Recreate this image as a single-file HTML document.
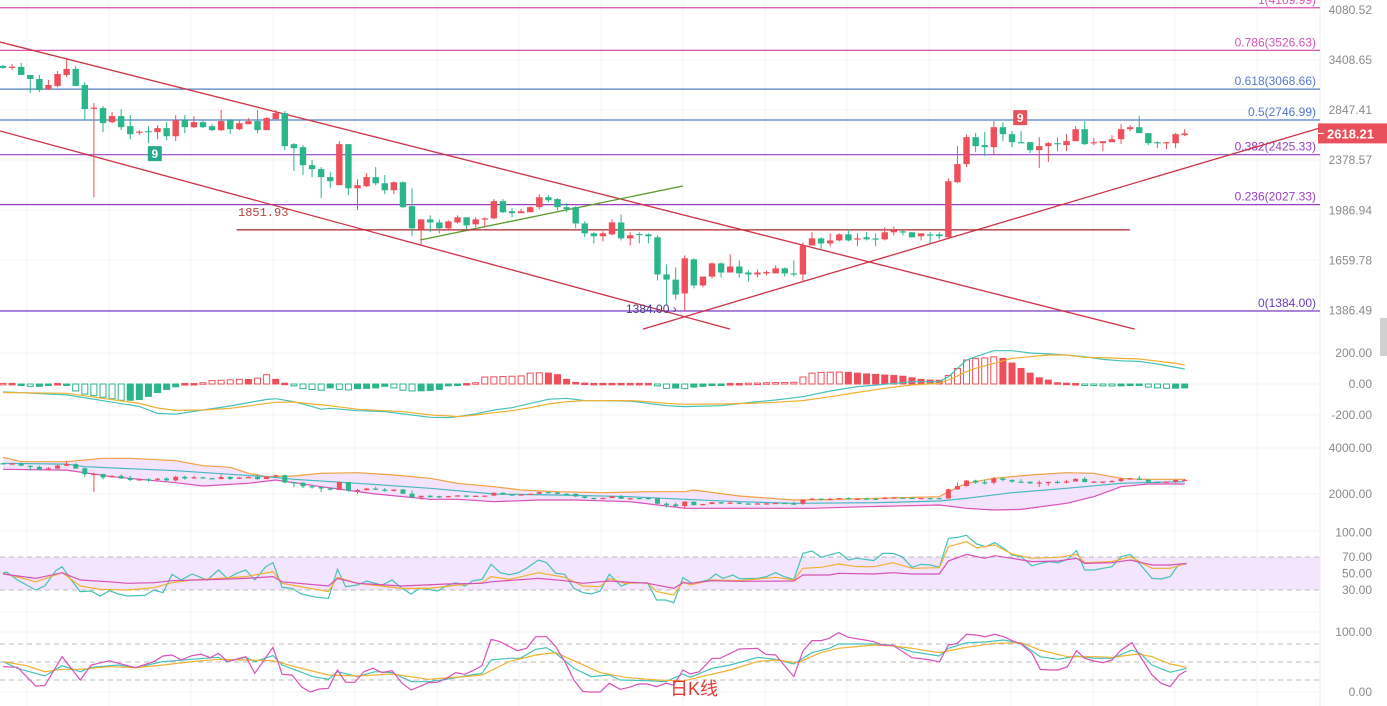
<!DOCTYPE html>
<html><head><meta charset="utf-8"><style>
html,body{margin:0;padding:0;background:#fff;width:1387px;height:706px;overflow:hidden}
svg{display:block;font-family:"Liberation Sans","Noto Sans CJK SC",sans-serif}
</style></head><body>
<svg id="chart" width="1387" height="706" viewBox="0 0 1387 706" xmlns="http://www.w3.org/2000/svg">
<g id="grid"></g>
<g id="main"></g>
<g id="macd"></g>
<g id="boll"></g>
<g id="rsi"></g>
<g id="kdj"></g>
<g id="axis"></g>
<text x="670" y="695" fill="#e53935" font-size="18">日K线</text>
<rect x="1380" y="318" width="7" height="38" fill="#d0d0d0"/>
</svg>
<script>
const opens=[3336,3324,3324,3229,3183,3070,3104,3229,3300,3115,2862,2867,2726,2786,2687,2626,2640,2630,2668,2592,2746,2677,2726,2687,2649,2746,2658,2706,2736,2649,2756,2816,2519,2492,2336,2303,2238,2174,2519,2150,2166,2238,2189,2135,2197,2016,1855,1923,1902,1862,1902,1937,1889,1923,1930,2053,1980,1966,1973,2009,2082,2068,2009,2009,1895,1829,1810,1822,1902,1796,1825,1822,1803,1578,1549,1474,1666,1517,1566,1642,1589,1624,1589,1578,1584,1584,1613,1584,1578,1751,1796,1764,1783,1822,1790,1803,1796,1790,1836,1842,1836,1810,1822,1822,1803,2197,2345,2583,2510,2492,2677,2611,2537,2537,2465,2501,2528,2510,2546,2658,2528,2528,2537,2564,2658,2677,2621,2537,2528,2528,2602];
const closes=[3312,3326,3229,3183,3059,3115,3240,3300,3104,2857,2872,2716,2786,2677,2611,2635,2635,2668,2592,2746,2677,2726,2677,2649,2736,2658,2716,2736,2649,2766,2816,2501,2483,2336,2303,2238,2205,2519,2150,2174,2238,2189,2135,2197,2009,1862,1923,1902,1862,1909,1937,1882,1923,1930,2053,1973,1966,1980,2009,2082,2060,2009,1995,1895,1829,1810,1829,1902,1796,1816,1820,1810,1578,1549,1468,1672,1517,1566,1642,1589,1624,1584,1578,1589,1592,1613,1584,1578,1751,1796,1764,1783,1822,1783,1796,1790,1790,1836,1849,1836,1803,1829,1816,1810,2205,2345,2583,2501,2492,2677,2611,2537,2528,2465,2501,2528,2519,2546,2658,2519,2537,2546,2564,2658,2677,2621,2528,2528,2537,2611,2618];
const highs=[3348,3360,3372,3229,3229,3172,3276,3433,3336,3149,2919,2888,2826,2857,2796,2649,2687,2697,2726,2796,2796,2786,2746,2706,2847,2756,2746,2766,2847,2776,2847,2836,2528,2510,2379,2320,2279,2546,2519,2221,2271,2320,2254,2205,2205,2150,1923,1951,1923,1916,1951,1937,1937,1937,2068,2068,2002,1995,2016,2105,2097,2075,2038,2016,1909,1836,1842,1923,1958,1836,1836,1829,1816,1636,1619,1690,1672,1566,1648,1648,1696,1660,1601,1607,1601,1630,1619,1660,1770,1836,1803,1829,1829,1855,1829,1836,1829,1869,1875,1849,1836,1829,1836,1836,2229,2501,2611,2621,2630,2736,2726,2640,2640,2537,2583,2537,2583,2611,2687,2736,2573,2546,2602,2706,2697,2786,2621,2546,2537,2621,2658];
const lows=[3300,3288,3229,3027,3038,3059,3092,3206,3104,2746,2082,2630,2716,2649,2564,2602,2528,2564,2555,2546,2621,2668,2668,2640,2640,2611,2649,2706,2621,2649,2756,2465,2287,2254,2238,2075,2150,2174,2097,1987,2158,2174,2105,2105,2002,1810,1751,1836,1829,1855,1895,1855,1869,1869,1923,1966,1937,1966,1973,1995,2045,1987,1973,1862,1803,1764,1777,1816,1783,1751,1764,1764,1544,1411,1442,1384,1501,1506,1555,1561,1589,1561,1538,1561,1572,1584,1566,1566,1533,1751,1720,1745,1777,1777,1745,1783,1745,1783,1816,1816,1803,1783,1764,1790,1803,2189,2320,2447,2413,2421,2546,2492,2528,2439,2312,2362,2456,2456,2546,2510,2510,2456,2537,2519,2640,2621,2510,2483,2474,2483,2592];
const priceTicks=[4080.52,3408.65,2847.41,2378.57,1986.94,1659.78,1386.49];
const fibLevels=["1","0.786","0.618","0.5","0.382","0.236","0"];
const fibPrices=[4109.99,3526.63,3068.66,2746.99,2425.33,2027.33,1384.00];
const lastPrice=2618.21;
const macdHist=[4,4,-3,-15,-15,-5,3,-3,-45,-65,-75,-85,-95,-105,-105,-100,-80,-55,-35,-18,3,3,8,22,24,27,30,29,38,60,30,5,-12,-30,-35,-40,-25,-35,-38,-30,-28,-25,-15,-25,-40,-45,-44,-42,-35,-12,-8,3,8,45,46,48,50,52,70,72,70,60,30,10,6,4,4,4,4,4,4,4,-12,-28,-26,-30,-20,-15,-5,-3,3,3,5,6,8,9,10,11,45,70,75,76,77,75,70,65,62,58,55,50,40,30,25,24,55,100,155,165,168,175,165,135,100,70,40,25,8,5,3,-5,-8,-12,-13,-12,-10,-8,-20,-25,-28,-27,-25];
const macdIdx=[0,7,15,17,19,22,25,27,29,30,32,34,35,36,39,42,44,47,49,50,52,54,56,58,60,62,64,66,69,71,73,75,79,82,85,88,91,94,97,100,103,104,105,106,107,109,111,113,115,117,119,121,123,125,127,129,130];
const difVals=[-50,-70,-145,-190,-195,-168,-142,-120,-100,-95,-114,-146,-163,-157,-172,-178,-193,-215,-217,-210,-193,-168,-153,-125,-99,-92,-107,-107,-110,-125,-140,-146,-140,-120,-103,-82,-45,-17,-2,15,15,47,100,155,176,215,215,200,194,187,176,159,150,146,129,107,97];
const deaVals=[-55,-60,-125,-155,-170,-168,-157,-142,-125,-118,-116,-129,-135,-140,-163,-172,-178,-200,-206,-210,-200,-185,-172,-153,-129,-114,-107,-107,-107,-114,-125,-131,-129,-125,-118,-107,-82,-54,-28,-6,4,26,52,80,101,133,165,176,187,187,172,170,165,161,148,133,122];
const macdTicks=[200,0,-200];
const bollUpIdx=[0,2,7,11,14,19,22,25,27,29,32,35,39,43,47,50,54,57,61,66,71,75,76,81,87,91,96,103,104,106,109,113,117,120,123,125,130];
const bollUpVals=[3596,3405,3405,3551,3551,3449,3232,3160,2899,2754,2783,2899,2928,2826,2681,2464,2319,2174,2101,2058,2101,2101,2174,1913,1739,1760,1812,1884,2101,2464,2681,2826,2928,2900,2681,2638,2638];
const bollMidIdx=[0,7,9,19,29,32,39,47,54,61,69,75,81,87,96,103,106,111,117,123,127,130];
const bollMidVals=[3333,3300,3189,3015,2754,2638,2464,2247,2000,1957,1884,1768,1667,1594,1623,1696,1812,2058,2247,2464,2507,2536];
const bollLowIdx=[0,7,12,19,22,27,30,35,41,47,50,54,59,63,69,75,81,89,95,103,106,109,112,117,120,123,126,130];
const bollLowVals=[3072,3040,2754,2493,2348,2464,2609,2319,2000,1768,1768,1667,1739,1739,1667,1377,1377,1377,1449,1522,1377,1304,1330,1594,1884,2319,2435,2435];
const bollTicks=[4000,2000];
const rsi1Idx=[0,0.4,1.6,3.6,4.6,5.8,6.5,7.5,8.5,9.7,10.7,11.7,12.7,13.7,15.6,16.6,17.6,18.6,19.6,20.8,22.5,23.7,24.7,25.7,26.7,27.7,28.9,29.7,30.7,31.8,32.8,34.5,35.8,36.8,37.7,39,40,41.7,42.8,43.9,44.9,45.8,46.8,47.8,48.8,49.8,50.8,51.7,52.7,53.7,54.7,55.7,56.7,57.6,58.9,59.8,60.8,61.8,62.8,63.8,64.7,65.7,66.7,68,69,69.9,70.9,71.9,72.9,73.8,74.8,75.8,76.7,77.6,78.4,79.2,80.3,81,83,84,85,85.9,87,88,89,90,91,92,93,93.9,94.8,95.8,96.8,97.9,98.9,100,101,102,103,104,105,106,107.1,108.1,109.1,110.1,111,112,113.2,114.1,115.1,116.1,117.1,118.1,119,120,121,122,123,124,125,126.4,127.4,128.4,129.3,130.2];
const rsi1Vals=[51,51.4,42.1,30,34.8,53.4,58.3,42.1,28,28.8,22.7,29.2,25.2,22.7,23.5,30,26.8,49,42.1,49.4,42.1,54.2,44.1,50.2,54.2,42.1,58.3,63.1,33.2,32,25.2,21.1,19.9,55.1,34,36.1,40.9,36.1,42.1,32,25.2,32,30.8,28.8,35.2,38.9,34.8,41.3,42.9,61.1,51,48.6,51,56.3,66.4,63.1,50.2,49,32,26.8,25.2,28.8,49,34.8,38.9,38.9,38.9,17.9,17.9,14.6,45,38.1,40,42.1,49.4,44.1,48.2,43.7,44.1,46.2,51,46.2,42.9,74.4,77.3,69.6,72.8,75.6,66.4,68.4,67.2,65.6,74.4,74.4,70.4,57.5,61.1,60.3,57.5,92.6,93.8,96.3,85.8,82.5,87.4,80.5,72.4,70.4,59.1,62.3,64.4,63.1,67.2,77.7,54.2,54.2,56.3,58.3,70.4,73.2,62.3,44.1,43.3,46.2,60.3,61.5];
const rsi2Idx=[0,3.6,6.5,8.5,10.7,13.7,16.6,18.6,20.8,23.7,26.7,29.7,30.7,35.8,36.8,39,43.9,46.8,50.8,52.7,53.7,55.7,58.9,61.8,63.8,65.7,66.7,68.4,70.9,71.9,73.8,74.8,75.6,78,81,85,87,88,90,91.9,93.9,95.8,97.9,100,103,104,106,107.1,109.1,111,113.2,116.1,118.1,119,122,124,126.4,128.4,130.2];
const rsi2Vals=[50.2,40,51,34.8,30.8,30,32.8,38.9,42.1,44.1,46.2,52.2,38.1,28,45.4,38.1,32,32,36.9,38.9,46.2,42.9,51,45.4,34.8,34,44.1,38.1,38.9,28,24,40,36,42.1,41.3,45.4,42.1,56.3,57.5,61.5,58.3,58.3,63.1,56.3,57,82.5,88.6,81.3,84.5,73.6,68.4,69.6,73.2,63.1,64.4,70.4,56.3,56.3,62.3];
const rsi3Idx=[0,3.6,6.5,8.5,11.7,13.7,16.6,18.6,23.7,26.7,29.7,30.7,35.8,36.8,39,43.9,48.8,52.7,53.7,58.9,61.8,63.8,66.7,70.9,73.8,74.8,75.6,78,81,87,88,90.9,91.9,95.8,97.9,100,103,104,106,108,109.1,111,113.2,116.1,118.1,119,122,124,126.4,128.4,130.2];
const rsi3Vals=[49.4,44.1,51,42.1,40,38.1,38.9,41.3,42.9,44.1,46.2,40,34.8,44.1,38.1,34.8,37.3,38.1,40,44.1,41.3,38.1,40.9,38.1,32,38.9,38.1,41.3,40.5,40.9,48.2,48.2,50.2,49.4,51,49.4,49.4,65.2,73.2,68.4,71.6,68.4,64.4,65.2,68.4,62.3,63.1,66.4,60.3,60.3,62.3];
const rsiTicks=[100,70,50,30];
const kIdx=[0,1.6,4.6,6.5,8.5,9.7,12.7,14.6,17.6,20.8,23.7,24.7,26.7,27.7,29.7,30.7,34.1,35.8,36.8,39,40.9,42.8,44.9,46.8,48.8,50.8,52.7,53.7,55.7,56.9,58.6,59.8,60.8,62.8,64.7,66.7,67.9,70.9,72.9,74.8,75.6,78,80,82,83,85,87,89,90.9,91.9,95.8,97.9,100,103,104,106,108.1,110.1,112,114.1,116.1,118.1,120,122,124.2,125.2,126.4,128.4,130.2];
const kVals=[50.6,39.5,26.7,43.9,33.9,41.1,45,40.6,50.6,54.5,57.8,50.6,57.8,50.6,60.6,45,25.6,21.1,33.9,25.6,33.9,32.3,17.2,17.2,21.1,26.7,31.1,53.4,56.1,56.1,71.1,73.9,64.5,39.5,25.6,28.4,20,18.9,17.2,30,24.5,39.5,45,53.4,57.8,54.5,46.7,65.6,72.8,80,80,77.8,67.2,60,72.8,82.2,83.3,86.7,81.1,58.9,54.5,60,56.1,56.1,70,63.4,45,32.8,39.5];
const dIdx=[0,2.6,4.6,6.5,8.5,11.7,14.6,17.6,20.8,23.7,26.7,29.7,32.1,35.8,39,42.8,46.8,50.8,52.7,55.7,58.6,60.8,63,65.7,68.4,71.9,74.8,75.6,80,83,85,87.4,90,91.9,95.8,97.9,100,103,106,109.1,112,114.1,117.1,120,122,124.9,126.4,128.4,130.2];
const dVals=[50.6,43.9,33.9,37.8,37.8,42.2,40.6,45,50.6,54.5,53.4,52.2,42.2,28.4,26.7,30,21.1,25.6,28.4,50.6,61.7,65.6,50.6,32.3,24.5,20,18.3,21.1,36.7,50.6,53.4,48.9,65.6,72.8,78.3,76.7,72.8,65.6,74.5,81.1,82.2,70,58.9,58.9,57.8,63.4,58.9,46.7,41.1];
const jIdx=[0,1.6,3.6,4.6,6.5,8.5,9.7,11.7,13.7,14.6,16.6,17.6,18.6,19.6,20.8,21.8,22.8,23.7,24.7,26.7,27.7,29.7,30.7,31.8,32.8,33.8,34.8,35.8,36.8,37.7,38.7,39.7,40.7,41.7,42.8,43.9,44.9,46.1,46.8,47.8,48.8,49.8,50.8,51.7,52.7,53.7,54.7,55.7,56.6,57.6,58.6,59.8,60.8,61.8,62.8,63.8,64.7,65.7,66.7,67.9,68.9,69.9,70.9,71.9,72.9,73.8,74.8,75.6,76.6,78,78.9,81,83,83.9,85,87,88,89,90,90.9,91.9,93,94.8,95.8,96.8,97.9,100,101,102,103,104,105,106,107.1,108.1,109.1,110.1,111,112,113.2,114.1,115.1,116.1,117.1,118.1,119,120,121,122,123,124.2,124.9,126.4,127.4,128.4,129.4,130.2];
const jVals=[42.2,41.1,10,10.6,58.9,20,45,52.2,43.9,40.6,50.6,60,61.7,53.4,60.6,62.8,57.2,64.5,50.6,58.9,31.1,74.5,29.5,28.4,8.9,0,5,6.1,36.7,16.1,16.1,33.9,39.5,32.3,35.6,14.5,3.4,10.6,15.6,16.1,22.8,32.3,29.5,35.6,43.9,87.8,83.9,75.6,68.9,72.8,92.2,92.2,75.6,50.6,20,0.6,0,0,14.5,4.5,7.8,13.4,13.4,8.9,14.5,11.7,36.7,30,33.9,56.1,56.1,71.7,72.8,62.8,61.7,25.6,68.4,85.6,85.6,89.5,98.9,91.1,86.7,83.9,77.8,77.8,57.2,55.6,53.4,50,78.3,81.1,96.1,95,92.2,96.1,92.2,85.6,80,64.5,37.8,36.7,36.7,42.2,68.9,56.1,51.7,48.9,53.4,70,82.2,64.5,28.4,14.5,8.9,28.4,35.6];
const kdjTicks=[100,0];
const kdjGuides=[80,50,20];

const NS="http://www.w3.org/2000/svg";
const PW=1320;
function mk(tag,attrs,parent){const e=document.createElementNS(NS,tag);for(const k in attrs)e.setAttribute(k,attrs[k]);parent.appendChild(e);return e;}
function xOf(i){return 3+i*9.09;}
function yP(p){return 311-278.6*Math.log(p/1384);}
function yM(v){return 384-v*0.155;}
function yB(p){return 494-(p-2000)*0.023;}
function yR(v){return 614.75-v*0.825;}
function yK(v){return 692-v*0.6;}
const RED="#ef4f5a",GREEN="#2bb58a";
const grid=document.getElementById('grid'),main=document.getElementById('main'),axis=document.getElementById('axis');

// grid
for(let gx=27;gx<PW;gx+=82){const l=mk('line',{x1:gx,x2:gx,y1:0,y2:706,stroke:"#f3f3f3","stroke-width":1},grid);

}
[60,110,160,210,260,310,353,384,415,448,494,531,612,632,692].forEach(gy=>{const l=mk('line',{x1:0,x2:PW,y1:gy,y2:gy,stroke:"#f3f3f3","stroke-width":1},grid);

});
mk('line',{x1:PW,x2:PW,y1:0,y2:706,stroke:"#eeeeee"},grid);

// fib
const fibColors=["#d653b3","#d653b3","#4f7fc2","#4f7fc2","#9c3fbf","#9c3fbf","#7d3fc6"];
const fibText=["#d653b3","#d653b3","#5677c9","#5677c9","#9b3fc0","#9b3fc0","#6a3dc0"];
fibPrices.forEach((p,k)=>{const y=yP(p);
const l=mk('line',{x1:0,x2:PW,y1:y,y2:y,stroke:fibColors[k],"stroke-width":1.2},main);


const t=mk('text',{x:1316,y:y-4,"text-anchor":"end","font-size":12,fill:fibText[k]},main);
t.textContent=fibLevels[k]+"("+p.toFixed(2)+")";

});

// trend lines
const trendA=[[-0.33,3634],[124.5,1297]],trendB=[[-0.33,2641],[80,1297]],trendC=[[70.4,1297],[144.9,2670]],trendG=[[45.9,1786],[74.8,2168]];
[[trendA,'descending-channel-upper'],[trendB,'descending-channel-lower'],[trendC,'ascending-trendline']].forEach(([t,n])=>{
const l=mk('line',{x1:xOf(t[0][0]),y1:yP(t[0][1]),x2:xOf(t[1][0]),y2:yP(t[1][1]),stroke:"#cc3344","stroke-width":1.3},main);

});
const gl=mk('line',{x1:xOf(trendG[0][0]),y1:yP(trendG[0][1]),x2:xOf(trendG[1][0]),y2:yP(trendG[1][1]),stroke:"#5a9a2a","stroke-width":1.3},main);


const hLevel=1851.93;
const hl=mk('line',{x1:xOf(25.7),x2:xOf(124),y1:yP(hLevel),y2:yP(hLevel),stroke:"#b3232b","stroke-width":1.3},main);


const hlt=mk('text',{x:238,y:yP(hLevel)-14,"font-size":12,fill:"#b5453e","font-family":"Liberation Mono, monospace"},main);
hlt.textContent=hLevel.toFixed(2);



// candles
function drawCandles(parent,yf,bw,nameP){
for(let i=0;i<opens.length;i++){const o=opens[i],c=closes[i],up=c>=o,col=up?RED:GREEN,x=xOf(i);
const g=mk('g',{},parent);


mk('line',{x1:x,x2:x,y1:yf(highs[i]),y2:yf(lows[i]),stroke:col,"stroke-width":1},g);
const t=Math.min(yf(o),yf(c)),h=Math.max(1.2,Math.abs(yf(o)-yf(c)));
mk('rect',{x:x-bw/2,y:t,width:bw,height:h,fill:col},g);}}
drawCandles(main,yP,6.4,'candle');

// markers
function marker(i,y,col,name){const g=mk('g',{},main);


mk('rect',{x:xOf(i)-7,y:y,width:14,height:15,fill:col,rx:1},g);
const t=mk('text',{x:xOf(i),y:y+12,"text-anchor":"middle","font-size":12,"font-weight":"bold",fill:"#fff"},g);t.textContent="9";}
marker(16.7,yP(lows[16])+3,"#26a98a",'td-sequential-9-green');
marker(111.9,yP(highs[112])-21,"#e8505b",'td-sequential-9-red');
const lowLbl=mk('text',{x:626,y:yP(1384)+2,"font-size":12,fill:"#4a3a8a"},main);
lowLbl.textContent="1384.00 ›";



// axis labels
function tick(v,y,txt,name){const t=mk('text',{x:1372,y:y+4,"text-anchor":"end","font-size":12,fill:"#8a8a8a"},axis);t.textContent=txt;

}
priceTicks.forEach(v=>tick(v,yP(v),v.toFixed(2),'price-tick'));
macdTicks.forEach(v=>tick(v,yM(v),v.toFixed(2),'macd-tick'));
bollTicks.forEach(v=>tick(v,yB(v),v.toFixed(2),'boll-tick'));
rsiTicks.forEach(v=>tick(v,yR(v),v.toFixed(2),'rsi-tick'));
kdjTicks.forEach(v=>tick(v,yK(v),v.toFixed(2),'kdj-tick'));
const tag=mk('g',{},axis);


mk('rect',{x:1318,y:yP(lastPrice)-10,width:69,height:20,fill:"#e8505b"},tag);
mk('line',{x1:1318,x2:1324,y1:yP(lastPrice),y2:yP(lastPrice),stroke:"#fff"},tag);
const tt=mk('text',{x:1327,y:yP(lastPrice)+5,"font-size":13,"font-weight":"bold",fill:"#fff"},tag);tt.textContent=lastPrice.toFixed(2);

// line helper
function poly(parent,idx,vals,yf,col,name,w){const pts=idx.map((i,k)=>xOf(i).toFixed(1)+","+yf(vals[k]).toFixed(1)).join(" ");
const p=mk('polyline',{points:pts,fill:"none",stroke:col,"stroke-width":w||1.2},parent);

return p;}

// MACD
const macdG=document.getElementById('macd');
macdHist.forEach((v,i)=>{const prev=i?macdHist[i-1]:0,col=v>=0?RED:GREEN,hollow=Math.abs(v)>Math.abs(prev);
const y1=yM(Math.max(v,0)),h=Math.max(1.5,Math.abs(yM(v)-yM(0)));
const r=mk('rect',{x:xOf(i)-3,y:y1,width:6,height:h,fill:hollow?"#fff":col,stroke:col,"stroke-width":1},macdG);

});
poly(macdG,macdIdx,difVals,yM,"#45c2b8",'macd-dif-line');
poly(macdG,macdIdx,deaVals,yM,"#f0b030",'macd-dea-line');

// BOLL
const bollG=document.getElementById('boll');
const fillPts=bollUpIdx.map((i,k)=>xOf(i)+","+yB(bollUpVals[k])).concat(bollLowIdx.map((i,k)=>xOf(i)+","+yB(bollLowVals[k])).reverse()).join(" ");
const bf=mk('polygon',{points:fillPts,fill:"#f3e3fb"},bollG);


poly(bollG,bollUpIdx,bollUpVals,yB,"#f0a040",'boll-upper');
poly(bollG,bollMidIdx,bollMidVals,yB,"#45b8c0",'boll-middle');
poly(bollG,bollLowIdx,bollLowVals,yB,"#d850b8",'boll-lower');
drawCandles(bollG,yB,5,'boll-candle');

// RSI
const rsiG=document.getElementById('rsi');
const band=mk('rect',{x:0,y:yR(70),width:PW,height:yR(30)-yR(70),fill:"#f3e5fc"},rsiG);


[70,30].forEach(v=>{const l=mk('line',{x1:0,x2:PW,y1:yR(v),y2:yR(v),stroke:"#bbb","stroke-dasharray":"5,4"},rsiG);

});
poly(rsiG,rsi1Idx,rsi1Vals,yR,"#45c2b8",'rsi6-line');
poly(rsiG,rsi2Idx,rsi2Vals,yR,"#f0b030",'rsi12-line');
poly(rsiG,rsi3Idx,rsi3Vals,yR,"#d850b8",'rsi24-line');

// KDJ
const kdjG=document.getElementById('kdj');
kdjGuides.forEach(v=>{const l=mk('line',{x1:0,x2:PW,y1:yK(v),y2:yK(v),stroke:"#bbb","stroke-dasharray":"5,4"},kdjG);

});
poly(kdjG,kIdx,kVals,yK,"#45c2b8",'kdj-k-line');
poly(kdjG,dIdx,dVals,yK,"#f0b030",'kdj-d-line');
poly(kdjG,jIdx,jVals,yK,"#d850b8",'kdj-j-line');
</script>
</body></html>
